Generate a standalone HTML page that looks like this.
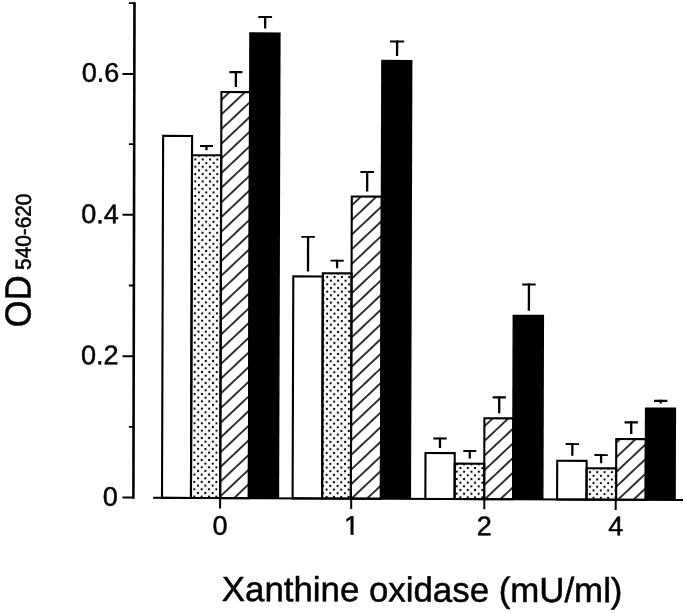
<!DOCTYPE html>
<html><head><meta charset="utf-8"><title>Xanthine oxidase chart</title>
<style>html,body{margin:0;padding:0;background:#fff;}svg{display:block;}.t{stroke:#000;stroke-width:0.5px;}</style></head>
<body><svg width="685" height="613" viewBox="0 0 685 613" font-family="'Liberation Sans', Arial, Helvetica, sans-serif" fill="#000">
<defs><pattern id="d0" patternUnits="userSpaceOnUse" x="193.07" y="304.63" width="7.33" height="7.33"><circle cx="1.83" cy="1.83" r="1.15"/><circle cx="5.5" cy="5.5" r="1.15"/></pattern><pattern id="h0" patternUnits="userSpaceOnUse" width="20" height="10.66" patternTransform="translate(221.34 128.98) rotate(-43.5)"><rect x="0" y="-0.8" width="20" height="1.6"/><rect x="0" y="9.86" width="20" height="1.6"/></pattern><pattern id="d1" patternUnits="userSpaceOnUse" x="325.33" y="451.11" width="7.33" height="7.33"><circle cx="1.83" cy="1.83" r="1.15"/><circle cx="5.5" cy="5.5" r="1.15"/></pattern><pattern id="h1" patternUnits="userSpaceOnUse" width="20" height="10.66" patternTransform="translate(352.48 204.27) rotate(-43.5)"><rect x="0" y="-0.8" width="20" height="1.6"/><rect x="0" y="9.86" width="20" height="1.6"/></pattern><pattern id="d2" patternUnits="userSpaceOnUse" x="459.13" y="465.79" width="7.33" height="7.33"><circle cx="1.83" cy="1.83" r="1.15"/><circle cx="5.5" cy="5.5" r="1.15"/></pattern><pattern id="h2" patternUnits="userSpaceOnUse" width="20" height="10.66" patternTransform="translate(485.62 439.75) rotate(-43.5)"><rect x="0" y="-0.8" width="20" height="1.6"/><rect x="0" y="9.86" width="20" height="1.6"/></pattern><pattern id="d3" patternUnits="userSpaceOnUse" x="588.59" y="469.49" width="7.33" height="7.33"><circle cx="1.83" cy="1.83" r="1.15"/><circle cx="5.5" cy="5.5" r="1.15"/></pattern><pattern id="h3" patternUnits="userSpaceOnUse" width="20" height="10.66" patternTransform="translate(617.52 455.74) rotate(-43.5)"><rect x="0" y="-0.8" width="20" height="1.6"/><rect x="0" y="9.86" width="20" height="1.6"/></pattern><clipPath id="c1"><rect x="340.32" y="504.87" width="24" height="26.98"/><rect x="351.3" y="531.85" width="2.99" height="4"/></clipPath></defs>
<rect width="685" height="613" fill="#fff"/>
<g transform="rotate(0.18 342.0 306.0)">
<rect x="162.61" y="136.47" width="28.95" height="361.95" fill="#fff" stroke="#000" stroke-width="2.1"/>
<rect x="191.56" y="155.68" width="29.2" height="342.77" fill="url(#d0)" stroke="#000" stroke-width="2.1"/>
<rect x="220.76" y="92.39" width="28.64" height="406.09" fill="url(#h0)" stroke="#000" stroke-width="2.1"/>
<rect x="248.35" y="32.64" width="31.4" height="465.86"/>
<rect x="199.5" y="145.53" width="13" height="1.9"/>
<rect x="204.85" y="145.53" width="2.3" height="5.1"/>
<rect x="228.66" y="71.43" width="13" height="2.1"/>
<rect x="234.01" y="71.43" width="2.3" height="15.9"/>
<rect x="257.39" y="16.34" width="13.8" height="2"/>
<rect x="263.14" y="16.34" width="2.3" height="12.3"/>
<rect x="293.21" y="276.56" width="29.5" height="221.99" fill="#fff" stroke="#000" stroke-width="2.1"/>
<rect x="322.71" y="273.37" width="28.75" height="225.21" fill="url(#d1)" stroke="#000" stroke-width="2.1"/>
<rect x="351.46" y="196.48" width="29.99" height="302.13" fill="url(#h1)" stroke="#000" stroke-width="2.1"/>
<rect x="380.4" y="59.73" width="31.25" height="438.91"/>
<rect x="301.18" y="236.21" width="13.4" height="1.7"/>
<rect x="306.73" y="236.21" width="2.3" height="35.3"/>
<rect x="330.35" y="259.82" width="13.2" height="1.8"/>
<rect x="335.8" y="259.82" width="2.3" height="8.5"/>
<rect x="359.98" y="171.02" width="13.6" height="1.9"/>
<rect x="365.63" y="171.02" width="2.3" height="20.4"/>
<rect x="389.17" y="40.33" width="14.2" height="2"/>
<rect x="395.12" y="40.33" width="2.3" height="15.4"/>
<rect x="425.96" y="452.74" width="29.25" height="45.94" fill="#fff" stroke="#000" stroke-width="2.1"/>
<rect x="455.21" y="463.25" width="29.55" height="35.46" fill="url(#d2)" stroke="#000" stroke-width="2.1"/>
<rect x="484.76" y="417.86" width="28.89" height="80.88" fill="url(#h2)" stroke="#000" stroke-width="2.1"/>
<rect x="512.6" y="314.22" width="31.5" height="184.56"/>
<rect x="433.71" y="437.29" width="13.4" height="2"/>
<rect x="439.26" y="437.29" width="2.3" height="10.4"/>
<rect x="463.75" y="449.6" width="13" height="2"/>
<rect x="469.1" y="449.6" width="2.3" height="8.6"/>
<rect x="492.88" y="395.81" width="13.3" height="2.2"/>
<rect x="498.38" y="395.81" width="2.3" height="17"/>
<rect x="522.13" y="282.91" width="13.5" height="2"/>
<rect x="527.73" y="282.91" width="2.3" height="27.3"/>
<rect x="557.71" y="460.13" width="29.4" height="38.69" fill="#fff" stroke="#000" stroke-width="2.1"/>
<rect x="587.11" y="467.54" width="29.55" height="31.31" fill="url(#d3)" stroke="#000" stroke-width="2.1"/>
<rect x="616.66" y="438.14" width="29.59" height="60.73" fill="url(#h3)" stroke="#000" stroke-width="2.1"/>
<rect x="645.2" y="406.5" width="31.2" height="92.4"/>
<rect x="566.13" y="442.38" width="13.3" height="1.9"/>
<rect x="571.63" y="442.38" width="2.3" height="12.7"/>
<rect x="594.86" y="453.29" width="13.4" height="1.9"/>
<rect x="600.41" y="453.29" width="2.3" height="9.2"/>
<rect x="624.96" y="420.39" width="13.3" height="2.1"/>
<rect x="630.46" y="420.39" width="2.3" height="12.7"/>
<rect x="654.29" y="398.8" width="13.4" height="2.2"/>
<rect x="659.84" y="398.8" width="2.3" height="3.7"/>
<line x1="133.54" y1="2.85" x2="134.01" y2="499.35" stroke="#000" stroke-width="2.6"/>
<line x1="121.77" y1="74.67" x2="133.6" y2="74.67" stroke="#000" stroke-width="2"/>
<line x1="122.21" y1="215.47" x2="133.74" y2="215.47" stroke="#000" stroke-width="2"/>
<line x1="122.66" y1="356.97" x2="133.87" y2="356.97" stroke="#000" stroke-width="2"/>
<line x1="123.1" y1="498.17" x2="134.01" y2="498.17" stroke="#000" stroke-width="2"/>
<line x1="127.95" y1="3.71" x2="133.54" y2="3.71" stroke="#000" stroke-width="1.8"/>
<line x1="128.39" y1="144.86" x2="133.67" y2="144.86" stroke="#000" stroke-width="1.8"/>
<line x1="128.84" y1="286.16" x2="133.8" y2="286.16" stroke="#000" stroke-width="1.8"/>
<line x1="129.28" y1="427.56" x2="133.94" y2="427.56" stroke="#000" stroke-width="1.8"/>
<line x1="153.7" y1="498.39" x2="683.61" y2="498.93" stroke="#000" stroke-width="2.1"/>
<line x1="220.72" y1="498.46" x2="220.72" y2="508.88" stroke="#000" stroke-width="2"/>
<line x1="351.82" y1="498.59" x2="351.82" y2="509.07" stroke="#000" stroke-width="2"/>
<line x1="484.92" y1="498.73" x2="484.92" y2="508.85" stroke="#000" stroke-width="2"/>
<line x1="616.32" y1="498.86" x2="616.32" y2="509.14" stroke="#000" stroke-width="2"/>
<text x="81.1" y="82.62" font-size="27" class="t">0.6</text>
<text x="80.94" y="223.92" font-size="27" class="t">0.4</text>
<text x="81.28" y="365.12" font-size="27" class="t">0.2</text>
<text x="103.43" y="506.55" font-size="27" class="t">0</text>
<text x="220.87" y="535.18" font-size="27" class="t" text-anchor="middle">0</text>
<text x="352.32" y="534.87" font-size="27" class="t" text-anchor="middle" clip-path="url(#c1)">1</text>
<text x="484.92" y="534.95" font-size="27" class="t" text-anchor="middle">2</text>
<text x="616.42" y="534.54" font-size="27" class="t" text-anchor="middle">4</text>
<text x="222.73" y="601.38" font-size="34.85" class="t">Xanthine oxidase (mU/ml)</text>
<text transform="translate(30.57 328.18) rotate(-90) scale(1 1.06)" font-size="34.3" class="t">O<tspan dx="0.3">D</tspan></text>
<text transform="translate(30.59 270.88) rotate(-90) scale(1 1.05)" font-size="20.8" class="t">540-620</text>
</g>
</svg></body></html>
